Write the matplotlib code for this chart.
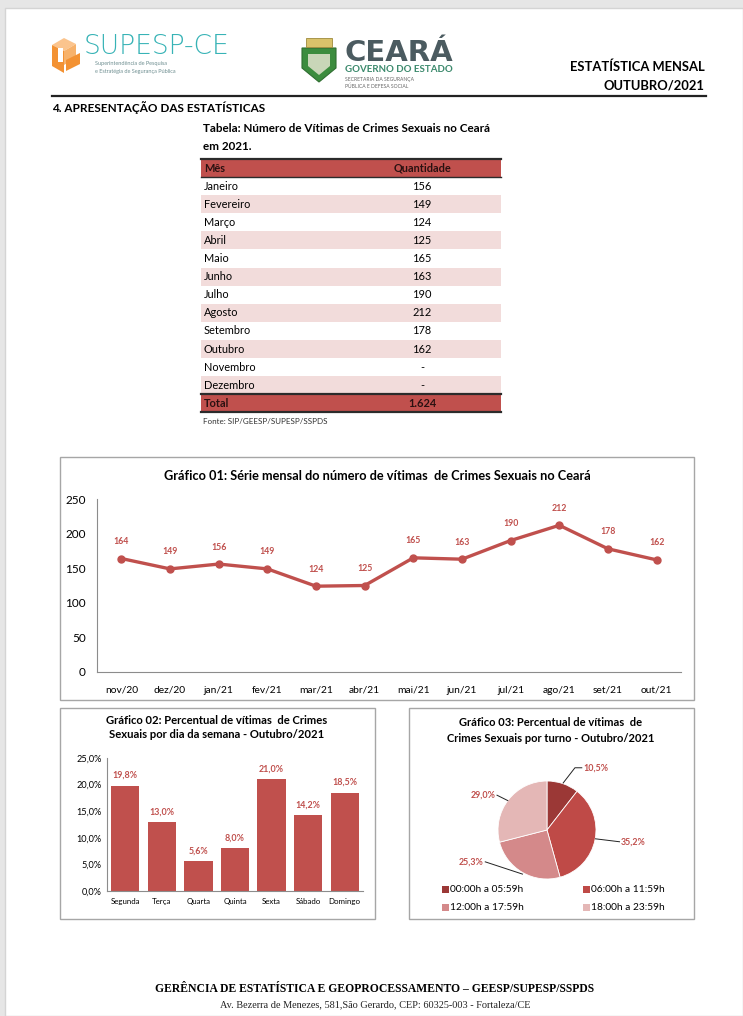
import numpy as np
import matplotlib
matplotlib.use('Agg')
import matplotlib.pyplot as plt
from matplotlib.patches import Rectangle, Polygon
from matplotlib.ticker import FuncFormatter

plt.rcParams['font.family'] = ['Lato', 'DejaVu Sans']

# ---------------- data ----------------
table_months = ['Janeiro', 'Fevereiro', 'Março', 'Abril', 'Maio', 'Junho', 'Julho',
                'Agosto', 'Setembro', 'Outubro', 'Novembro', 'Dezembro']
table_values = ['156', '149', '124', '125', '165', '163', '190', '212', '178', '162', '-', '-']
table_total = '1.624'

serie_labels = ['nov/20', 'dez/20', 'jan/21', 'fev/21', 'mar/21', 'abr/21',
                'mai/21', 'jun/21', 'jul/21', 'ago/21', 'set/21', 'out/21']
serie_values = [164, 149, 156, 149, 124, 125, 165, 163, 190, 212, 178, 162]

dias = ['Segunda', 'Terça', 'Quarta', 'Quinta', 'Sexta', 'Sábado', 'Domingo']
dias_pct = [19.8, 13.0, 5.6, 8.0, 21.0, 14.2, 18.5]

turnos = ['00:00h a 05:59h', '06:00h a 11:59h', '12:00h a 17:59h', '18:00h a 23:59h']
turnos_pct = [10.5, 35.2, 25.3, 29.0]

RED = '#c0504d'
PINK = '#f2dcdb'
pie_colors = ['#9b3836', '#bf4a47', '#d4898a', '#e4b7b6']

W, H = 743, 1016


def box(x0, y0, x1, y1):
    return [x0 / W, 1 - y1 / H, (x1 - x0) / W, (y1 - y0) / H]


def pct(v, pos=None):
    return f'{v:.1f}'.replace('.', ',') + '%'


fig = plt.figure(figsize=(W / 100, H / 100), dpi=100)
fig.patch.set_facecolor('#e6e6e6')

page = fig.add_axes([0, 0, 1, 1])
page.set_xlim(0, W)
page.set_ylim(H, 0)
page.axis('off')
page.add_patch(Rectangle((5, 8), W - 5, H - 8, fc='white', ec='#d4d4d4', lw=1))

# ---------------- header / logos ----------------
orange = '#f39233'
page.add_patch(Polygon([(52, 45), (64, 38), (76, 44), (64, 51)], fc='#fbc48d', ec='none'))
page.add_patch(Polygon([(52, 45), (64, 51), (64, 73), (52, 66)], fc=orange, ec='none'))
page.add_patch(Polygon([(64, 51), (76, 44), (76, 58), (64, 65)], fc='#f7b26b', ec='none'))
page.add_patch(Polygon([(66, 60), (80, 53), (80, 64), (66, 71)], fc=orange, ec='none'))
page.add_patch(Rectangle((58, 48), 5, 14, fc='white', ec='none'))
page.text(84, 47, 'SUPESP-CE', fontsize=19, color='#37b3b6', va='center', ha='left',
          family='DejaVu Sans', fontweight='light')
page.text(95, 64, 'Superintendência de Pesquisa', fontsize=4, color='#6f8f91', va='center')
page.text(95, 71, 'e Estratégia de Segurança Pública', fontsize=4, color='#6f8f91', va='center')

page.add_patch(Polygon([(302, 48), (336, 48), (336, 68), (319, 82), (302, 68)],
                       fc='#3c8c3e', ec='#2f6e31', lw=0.8))
page.add_patch(Rectangle((306, 38), 26, 9, fc='#d9c26a', ec='#9e8a3b', lw=0.6))
page.add_patch(Polygon([(308, 54), (330, 54), (330, 66), (319, 75), (308, 66)],
                       fc='#c9d6b8', ec='none'))
page.text(344, 53, 'CEARÁ', fontsize=21, fontweight='heavy', color='#4b5b60', va='center',
          family='DejaVu Sans')
page.text(345, 70, 'GOVERNO DO ESTADO', fontsize=7, fontweight='bold', color='#3c8a6d', va='center')
page.text(345, 80, 'SECRETARIA DA SEGURANÇA', fontsize=3.6, color='#666666', va='center')
page.text(345, 86, 'PÚBLICA E DEFESA SOCIAL', fontsize=3.6, color='#666666', va='center')

page.text(705, 67, 'ESTATÍSTICA MENSAL', fontsize=9.4, fontweight='bold', ha='right', va='center')
page.text(705, 85, 'OUTUBRO/2021', fontsize=9.4, fontweight='bold', ha='right', va='center')
page.plot([52, 706], [96, 96], color='#222222', lw=1.6)
page.text(52, 108, '4. APRESENTAÇÃO DAS ESTATÍSTICAS', fontsize=8.5, fontweight='bold',
          ha='left', va='center')

# ---------------- table ----------------
tx0, tx1 = 201, 501
qx = 422
page.text(203, 128, 'Tabela: Número de Vítimas de Crimes Sexuais no Ceará', fontsize=8.4,
          fontweight='bold', va='center')
page.text(203, 146, 'em 2021.', fontsize=8.4, fontweight='bold', va='center')

hy0, rh = 159, 18.1
page.add_patch(Rectangle((tx0, hy0), tx1 - tx0, rh, fc=RED, ec='none'))
page.plot([tx0, tx1], [hy0, hy0], color='#2b2b2b', lw=1.6)
page.plot([tx0, tx1], [hy0 + rh, hy0 + rh], color='#2b2b2b', lw=1.0)
page.text(204, hy0 + rh / 2, 'Mês', fontsize=7.9, fontweight='bold', color='#2a1111', va='center')
page.text(qx, hy0 + rh / 2, 'Quantidade', fontsize=7.9, fontweight='bold', color='#2a1111',
          va='center', ha='center')
for i, (m, v) in enumerate(zip(table_months, table_values)):
    y = hy0 + rh * (i + 1)
    if i % 2 == 1:
        page.add_patch(Rectangle((tx0, y), tx1 - tx0, rh, fc=PINK, ec='none'))
    page.text(204, y + rh / 2, m, fontsize=7.9, va='center')
    page.text(qx, y + rh / 2, v, fontsize=7.9, va='center', ha='center')
ty = hy0 + rh * (len(table_months) + 1)
page.add_patch(Rectangle((tx0, ty), tx1 - tx0, rh, fc=RED, ec='none'))
page.plot([tx0, tx1], [ty, ty], color='#2b2b2b', lw=1.6)
page.plot([tx0, tx1], [ty + rh, ty + rh], color='#2b2b2b', lw=1.6)
page.text(204, ty + rh / 2, 'Total', fontsize=7.9, fontweight='bold', color='#2a1111', va='center')
page.text(qx, ty + rh / 2, table_total, fontsize=7.9, fontweight='bold', color='#2a1111',
          va='center', ha='center')
page.text(203, 422, 'Fonte: SIP/GEESP/SUPESP/SSPDS', fontsize=5.8, va='center', color='#333333')

# ---------------- chart boxes ----------------
for (x0, y0, x1, y1) in [(60, 457, 694, 700), (60, 708, 375, 919), (409, 708, 694, 919)]:
    page.add_patch(Rectangle((x0, y0), x1 - x0, y1 - y0, fc='white', ec='#a6a6a6', lw=1))

# ---------------- Gráfico 01 ----------------
page.text(377, 476, 'Gráfico 01: Série mensal do número de vítimas  de Crimes Sexuais no Ceará',
          fontsize=9.2, fontweight='bold', ha='center', va='center')
ax1 = fig.add_axes(box(97, 499, 681, 672))
x = np.arange(len(serie_values))
ax1.plot(x, serie_values, color=RED, lw=2.4, marker='o', ms=5)
for xi, v in zip(x, serie_values):
    ax1.annotate(str(v), (xi, v), xytext=(0, 9), textcoords='offset points', ha='center',
                 va='bottom', fontsize=6.3, fontweight='bold', color=RED)
ax1.set_xlim(-0.5, len(x) - 0.5)
ax1.set_ylim(0, 250)
ax1.set_yticks(range(0, 251, 50))
ax1.set_xticks(x)
ax1.set_xticklabels(serie_labels)
ax1.tick_params(axis='y', length=0, labelsize=8.5, pad=8)
ax1.tick_params(axis='x', length=0, labelsize=7.4, pad=10)
for s in ['top', 'right']:
    ax1.spines[s].set_visible(False)
for s in ['left', 'bottom']:
    ax1.spines[s].set_color('#8c8c8c')
    ax1.spines[s].set_linewidth(0.8)
ax1.patch.set_alpha(0)

# ---------------- Gráfico 02 ----------------
page.text(217, 720, 'Gráfico 02: Percentual de vítimas  de Crimes', fontsize=8.1,
          fontweight='bold', ha='center', va='center')
page.text(217, 735, 'Sexuais por dia da semana - Outubro/2021', fontsize=8.1,
          fontweight='bold', ha='center', va='center')
ax2 = fig.add_axes(box(107, 758, 363, 891))
xb = np.arange(len(dias))
ax2.bar(xb, dias_pct, width=0.77, color=RED)
for xi, v in zip(xb, dias_pct):
    ax2.annotate(pct(v), (xi, v), xytext=(0, 4), textcoords='offset points', ha='center',
                 va='bottom', fontsize=6.4, fontweight='bold', color=RED)
ax2.set_xlim(-0.5, len(dias) - 0.5)
ax2.set_ylim(0, 25)
ax2.set_yticks(np.arange(0, 25.1, 5))
ax2.yaxis.set_major_formatter(FuncFormatter(pct))
ax2.set_xticks(xb)
ax2.set_xticklabels(dias)
ax2.tick_params(axis='y', length=0, labelsize=6.6, pad=4)
ax2.tick_params(axis='x', length=0, labelsize=5.7, pad=5)
for s in ['top', 'right']:
    ax2.spines[s].set_visible(False)
for s in ['left', 'bottom']:
    ax2.spines[s].set_color('#8c8c8c')
    ax2.spines[s].set_linewidth(0.8)
ax2.patch.set_alpha(0)

# ---------------- Gráfico 03 ----------------
page.text(551, 723, 'Gráfico 03: Percentual de vítimas  de', fontsize=8.0,
          fontweight='bold', ha='center', va='center')
page.text(551, 739, 'Crimes Sexuais por turno - Outubro/2021', fontsize=8.0,
          fontweight='bold', ha='center', va='center')
R = 49.0
ax3 = fig.add_axes(box(447, 730, 647, 930))
ax3.axis('off')
wedges, _ = ax3.pie(turnos_pct, colors=pie_colors, startangle=90, counterclock=False,
                    radius=1, wedgeprops=dict(edgecolor='white', linewidth=0.6))
ax3.set_xlim(-100 / R, 100 / R)
ax3.set_ylim(-100 / R, 100 / R)
ax3.set_aspect('equal')

# leader lines and labels (pie units)
leaders = [
    ([0.33, 0.57, 0.71], [0.96, 1.27, 1.27], 0.74, 1.27, 'left'),
    ([0.99, 1.48], [-0.18, -0.24], 1.51, -0.24, 'left'),
    ([-0.5, -1.26], [-0.9, -0.65], -1.29, -0.65, 'right'),
    ([-0.80, -1.02], [0.60, 0.71], -1.05, 0.71, 'right'),
]
for (lx, ly, tx, ty_, ha), v in zip(leaders, turnos_pct):
    ax3.plot(lx, ly, color='#222222', lw=0.7)
    ax3.text(tx, ty_, pct(v), fontsize=6.4, fontweight='bold', color=RED, ha=ha, va='center')

leg_pos = [(442, 889), (583, 889), (442, 907), (583, 907)]
for (lx, ly), lab, c in zip(leg_pos, turnos, pie_colors):
    page.add_patch(Rectangle((lx, ly - 3.5), 7, 7, fc=c, ec='none'))
    page.text(lx + 8, ly, lab, fontsize=7.3, va='center', ha='left')

# ---------------- footer ----------------
page.text(375, 989, 'GERÊNCIA DE ESTATÍSTICA E GEOPROCESSAMENTO – GEESP/SUPESP/SSPDS',
          fontsize=8.4, fontweight='bold', family='Liberation Serif', ha='center', va='center')
page.text(375, 1005, 'Av. Bezerra de Menezes, 581,São Gerardo, CEP: 60325-003 - Fortaleza/CE',
          fontsize=7.4, family='Liberation Serif', ha='center', va='center', color='#222222')

fig.savefig('out.png', dpi=100)
